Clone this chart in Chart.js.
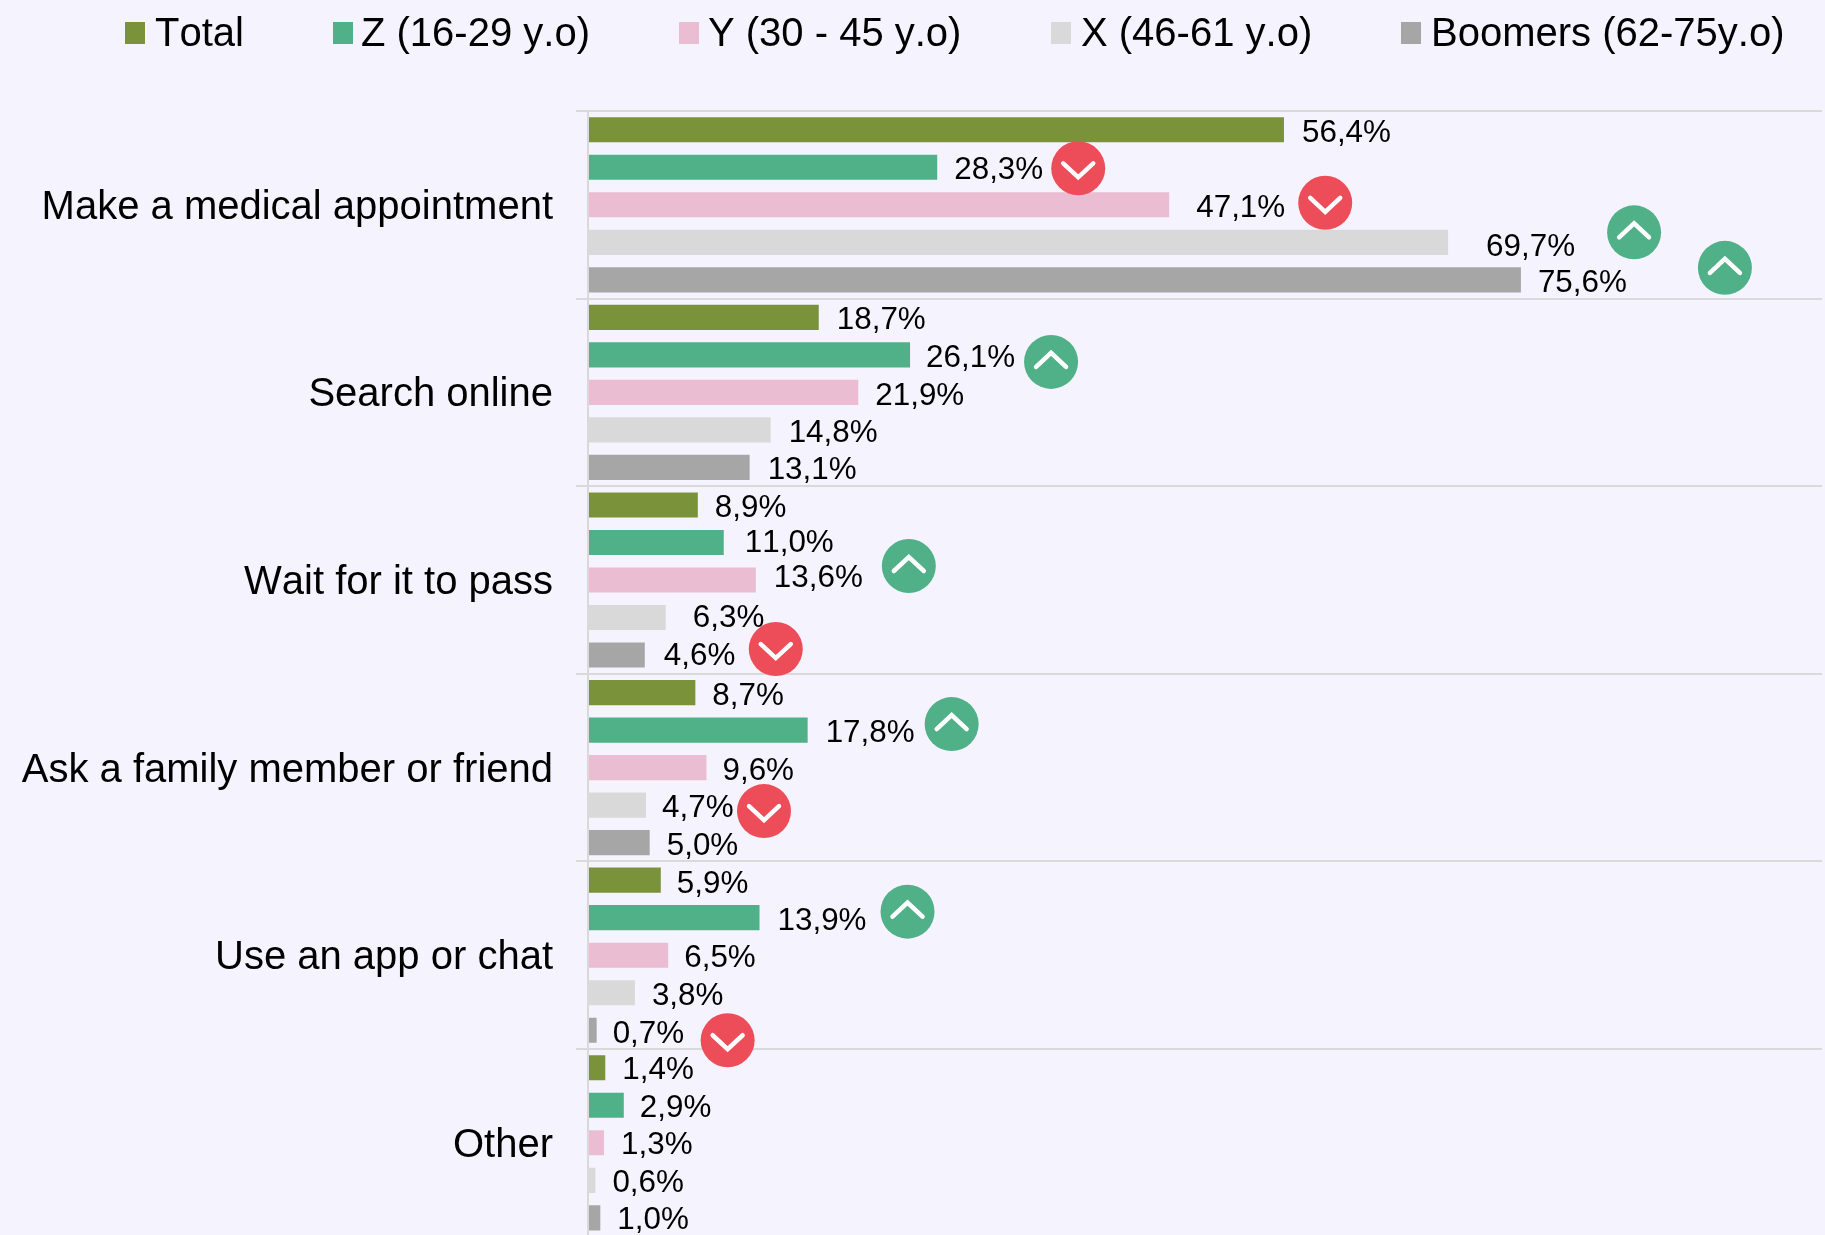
<!DOCTYPE html>
<html><head><meta charset="utf-8">
<script src="https://cdn.jsdelivr.net/npm/chart.js@4"></script>
<style>
html,body{margin:0;padding:0;background:#f5f4fe;overflow:hidden;width:1825px;height:1235px}
#w{position:relative;width:1825px;height:1235px;overflow:hidden}
canvas{display:block}
</style></head><body><div id="w"><canvas id="c" width="1825" height="1300"></canvas></div>
<script>
const categories = ["Make a medical appointment","Search online","Wait for it to pass","Ask a family member or friend","Use an app or chat","Other"];
const seriesNames = ["Total","Z (16-29 y.o)","Y (30 - 45 y.o)","X (46-61 y.o)","Boomers (62-75y.o)"];
const total   = [56.4,18.7,8.9,8.7,5.9,1.4];
const genZ    = [28.3,26.1,11.0,17.8,13.9,2.9];
const genY    = [47.1,21.9,13.6,9.6,6.5,1.3];
const genX    = [69.7,14.8,6.3,4.7,3.8,0.6];
const boomers = [75.6,13.1,4.6,5.0,0.7,1.0];
const colors = ["#7a933b","#50b088","#eabdd2","#d9d9d9","#a6a6a6"];
// significance markers: series index, category index, direction
const markers = [
 [1,0,"down"],[2,0,"down"],[3,0,"up"],[4,0,"up"],[1,1,"up"],[2,2,"up"],[4,2,"down"],
 [1,3,"up"],[3,3,"down"],[1,4,"up"],[4,4,"down"]];
// marker placement relative to the bar tip
const markerOffsets = [[141,1],[156,-2],[186,-10],[204,-12],[141,7],[153,-14],[131,-6],[144,-6],[118,6],[148,-6],[131,10]];
// gap between bar tip and its label, per category then series
const labelGaps = [[18,17,27,38,17],[18,16,17,18,18],[17,21,18,27,19],[17,18,16,16,17],[16,18,16,17,16],[17,16,17,17,17]];
// vertical nudge of each label from its bar centre, per category then series
const labelDrops = [[4,3,4,5.5,4],[3,3,4,3,3],[3,1,-2,1,1],[4,3,4,3,4],[4,4,3,4,4],[3,3,3,3,3]];
const legendX = [125,333,679,1051,1401];
const legendTextGap = [30,28,29,30,30];
const GRID="#d9d9d9", FONT='"Liberation Sans", Arial, sans-serif';

const overlay = {
  id:'overlay',
  beforeDraw(chart){ chart.ctx.fontKerning='none'; },
  afterDatasetsDraw(chart){
    const ctx=chart.ctx;
    ctx.save();
    ctx.fontKerning='none';
    ctx.font='31.4px '+FONT; ctx.fillStyle='#000'; ctx.textAlign='left'; ctx.textBaseline='middle';
    chart.data.datasets.forEach((ds,s)=>{
      chart.getDatasetMeta(s).data.forEach((bar,c)=>{
        const t=ds.data[c].toFixed(1).replace('.',',')+'%';
        ctx.fillText(t,bar.x+labelGaps[c][s],bar.y+labelDrops[c][s]);
      });
    });
    markers.forEach((m,i)=>{
      const bar=chart.getDatasetMeta(m[0]).data[m[1]];
      const x=bar.x+markerOffsets[i][0], y=bar.y+markerOffsets[i][1];
      ctx.beginPath(); ctx.arc(x,y,27,0,Math.PI*2);
      ctx.fillStyle=m[2]==='up'?'#50b088':'#ec4d58'; ctx.fill();
      ctx.beginPath();
      const d=m[2]==='up'?-1:1;
      ctx.moveTo(x-15,y-5*d); ctx.lineTo(x,y+9*d); ctx.lineTo(x+15,y-5*d);
      ctx.lineWidth=4.5; ctx.lineCap='round'; ctx.lineJoin='miter'; ctx.strokeStyle='#fff'; ctx.stroke();
    });
    // legend
    ctx.font='40px '+FONT;
    chart.data.datasets.forEach((ds,s)=>{
      ctx.fillStyle=ds.backgroundColor; ctx.fillRect(legendX[s],22,20,22);
      ctx.fillStyle='#000'; ctx.fillText(ds.label,legendX[s]+legendTextGap[s],35);
    });
    ctx.restore();
  }
};

new Chart(document.getElementById('c'),{
  type:'bar',
  data:{labels:categories,datasets:[total,genZ,genY,genX,boomers].map((d,i)=>({
    label:seriesNames[i],data:d,backgroundColor:colors[i],
    categoryPercentage:1,barPercentage:0.67}))},
  plugins:[overlay],
  options:{
    indexAxis:'y',responsive:false,animation:false,
    layout:{padding:{top:111,bottom:63.4,right:3,left:0}},
    plugins:{legend:{display:false},tooltip:{enabled:false}},
    scales:{
      x:{display:false,min:0,max:100,grid:{display:false}},
      y:{
        afterFit(s){s.width=588;},
        grid:{color:GRID,lineWidth:2,tickLength:12,drawOnChartArea:true},
        border:{color:GRID,width:2,z:1},
        ticks:{color:'#000',padding:23,labelOffset:3,font:{family:FONT,size:40}}
      }
    }
  }
});
</script></body></html>
